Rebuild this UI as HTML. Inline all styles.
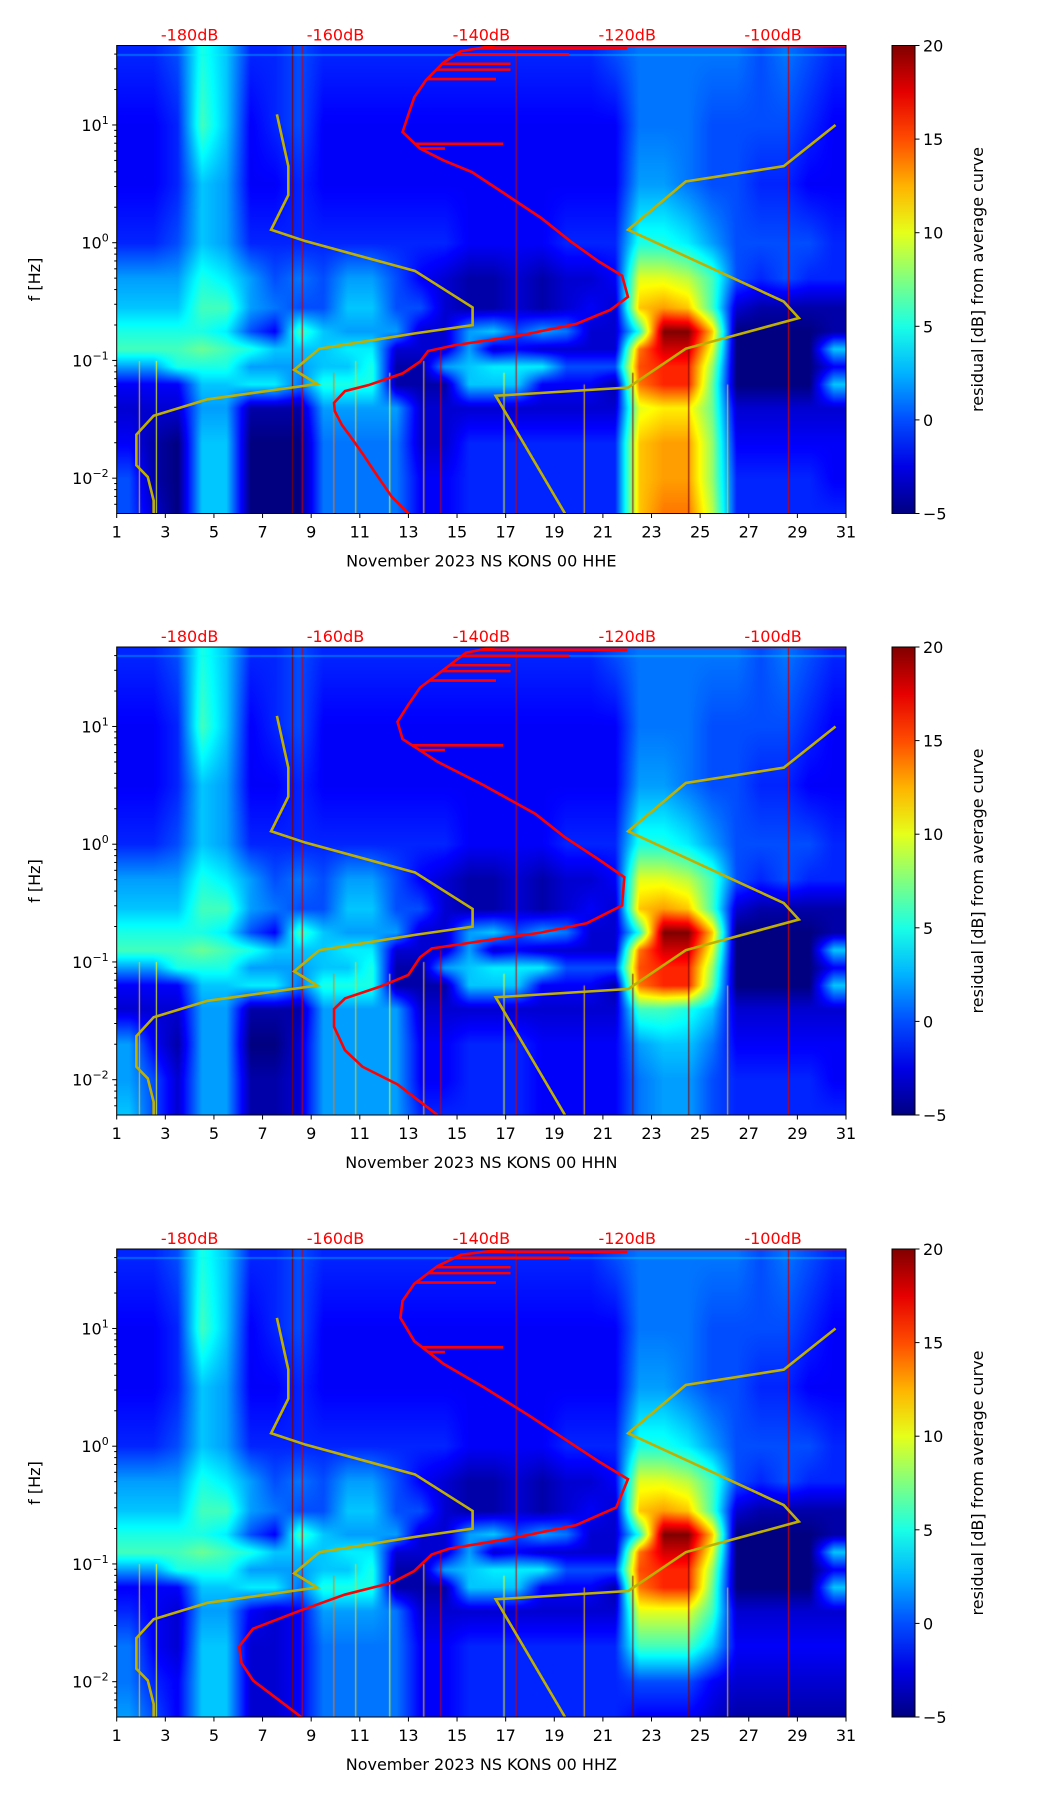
<!DOCTYPE html>
<html><head><meta charset="utf-8">
<style>
html,body{margin:0;padding:0;background:#fff;}
body{width:1052px;height:1806px;position:relative;overflow:hidden;font-family:"DejaVu Sans","Liberation Sans",sans-serif;}
canvas{position:absolute;}
svg{position:absolute;left:0;top:0;}
</style></head>
<body>
<div id="root"></div>
<script>
// ---- shared data ----
const dayTicks = [1,3,5,7,9,11,13,15,17,19,21,23,25,27,29,31];
const dbTicks = [-180,-160,-140,-120,-100];
const fTickExp = [1,0,-1,-2];
const cbTicks = [20,15,10,5,0,-5];
const channels = ["HHE","HHN","HHZ"];
// grid rows: log10 frequency centers
const rowLog = [1.6,1.0,0.5,0.0,-0.3,-0.55,-0.75,-0.9,-1.05,-1.2,-1.4,-1.7,-2.0,-2.3];
// residual dB per day column (days 1..30), upper rows shared
const rowA = [-1,-1,0,5,3,-1,-1,0,-1,-1,-1,-1,-1,-1,-1,-1,-1,-1,-1,-1,0,1,1,1,1,1,0,1,0,-1];
const rowB = [-2,-2,-1,6,3,-2,-1,0,-2,-2,-2,-2,-2,-2,-2,-2,-2,-2,-2,-2,-2,1,1,1,0,0,0,0,-1,-2];
const rowC = [-2,-2,-1,3,2,-2,-2,-1,-2,-2,-2,-2,-2,-2,-2,-2,-2,-2,-2,-2,-2,2,2,1,0,0,-1,-1,-2,-2];
const rowD = [-1,-1,0,3,2,-1,-1,-1,-1,-1,-1,-1,-1,-1,-2,-2,-2,-2,-1,-1,-1,5,5,4,2,0,0,0,0,-1];
const rowE = [2,2,2,5,4,2,0,1,0,2,2,0,-2,-3,-4,-4,-3,-4,-3,-3,-2,10,10,9,6,0,-1,0,-1,-1];
const rowF = [3,3,3,6,6,2,1,0,0,3,3,0,0,-3,-4,-4,-3,-4,-3,-2,-3,12,13,12,6,-3,-4,-4,-4,-4];
const rowG = [5,5,5,5,4,0,-2,6,3,2,2,2,-3,-3,2,3,0,2,1,-3,-3,5,20,20,12,-5,-5,-5,-5,-4];
const rowH = [6,6,6,7,6,5,3,3,3,4,4,-3,-3,-3,2,-3,-2,-3,-3,-3,-3,14,18,18,10,-5,-5,-5,-5,3];
const rowI = [2,2,5,5,5,2,2,2,3,3,5,-4,-4,2,3,4,4,4,0,0,0,15,16,16,8,-5,-5,-5,-5,-2];
const rowJ = [-2,-2,-2,3,3,4,4,1,5,5,5,-4,-4,-4,3,3,3,-2,-2,-2,-4,14,16,16,7,-5,-5,-5,-5,3];
// low rows per channel
const lowHHE = [
 [-3,-3,-3,2,2,-4,-4,-4,2,2,2,2,-3,-3,-3,-3,-3,-3,-3,-3,-3,10,11,11,7,-3,-3,-3,-3,-3],
 [-2,-4,-5,3,3,-5,-5,-5,1,1,1,1,-3,-3,-1,-1,-1,-1,-1,-1,-1,12,13,13,8,-2,-2,-2,-2,-2],
 [0,-4,-5,3,3,-5,-5,-5,1,1,1,1,-2,-2,-1,-1,-1,-1,-1,-1,-1,12,13,13,8,-1,-1,-1,-1,-2],
 [0,-3,-5,3,3,-5,-5,-5,1,1,1,1,-2,-2,-1,-1,-1,-1,-1,-1,-1,12,14,14,9,-1,-1,-1,-1,-1]];
const lowHHN = [
 [-3,-3,-3,2,2,-4,-4,-4,2,2,2,2,-3,-3,-3,-3,-3,-3,-3,-3,-3,6,6,5,3,-3,-3,-3,-3,-3],
 [2,-2,-4,2,2,-5,-5,-3,2,2,2,2,-2,-2,-1,-1,-1,-2,-2,-2,-2,2,3,3,1,-2,-2,-2,-2,-2],
 [2,0,-3,2,2,-4,-4,-3,2,2,2,2,-2,-2,-1,-1,-1,-2,-2,-2,-2,1,2,2,0,-1,-1,-1,-1,-2],
 [3,0,-3,2,2,-4,-4,-3,2,2,2,2,-1,-1,-1,-1,-1,-2,-2,-2,-2,1,2,2,0,-1,-1,-1,-1,-1]];
const lowHHZ = [
 [-1,-2,-3,2,2,-2,-3,-2,2,2,2,1,-3,-3,-3,-3,-3,-3,-3,-3,-3,10,10,10,6,-3,-3,-3,-3,-3],
 [1,-2,-3,3,3,-3,-3,-2,1,1,1,1,-2,-2,-1,-1,-1,-1,-1,-1,-1,6,6,6,3,-2,-2,-2,-2,-2],
 [1,-1,-2,3,3,-3,-3,-2,1,1,1,1,-2,-2,-1,-1,-1,-1,-1,-1,-1,0,0,0,-2,-3,-3,-3,-3,-3],
 [2,0,-2,3,3,-3,-3,-2,1,1,1,1,-2,-2,-1,-1,-1,-1,-1,-1,-1,-2,-2,-2,-3,-4,-4,-4,-4,-4]];
// vertical streaks: day, value, top extent (log10 f)
const streakDays = [1.9,2.6,8.2,8.6,9.9,10.8,12.2,13.6,14.3,16.9,17.4,20.2,22.2,24.5,26.1,28.6];
const streakVals = [12,10,20,18,14,12,10,12,18,10,18,12,20,20,12,18];
const streakTop = [-1.0,-1.0,1.675,1.675,-1.1,-1.0,-1.1,-1.0,-0.9,-1.1,1.675,-1.2,-1.1,-0.9,-1.2,1.675];
// red curve (dB on top axis, log10 f)
const redDbHHE = [-150.0,-152.3,-154.7,-156.3,-157.9,-159.1,-160.1,-160.2,-158.7,-155.5,-150.8,-148.4,-147.3,-143.6,-134.9,-127.0,-122.3,-119.9,-120.7,-123.9,-127.8,-131.8,-136.5,-141.3,-145.2,-148.4,-150.8,-150.0,-149.2,-147.6,-145.2,-142.8,-138.1,-89.9];
const redLfHHE = [-2.3,-2.157,-1.94,-1.79,-1.65,-1.55,-1.43,-1.36,-1.26,-1.21,-1.11,-1.01,-0.92,-0.87,-0.79,-0.69,-0.57,-0.46,-0.28,-0.16,0.013,0.21,0.404,0.60,0.70,0.80,0.94,1.09,1.235,1.38,1.53,1.626,1.675,1.675];
const redDbHHN = [-146.0,-151.5,-156.3,-158.7,-160.2,-160.2,-158.7,-153.9,-150.0,-148.4,-146.8,-139.7,-131.8,-125.5,-120.7,-120.4,-123.9,-128.6,-132.6,-139.7,-146.0,-150.8,-151.5,-150.0,-148.4,-145.2,-142.1,-138.1,-89.9];
const redLfHHN = [-2.3,-2.04,-1.89,-1.75,-1.55,-1.40,-1.31,-1.21,-1.11,-0.96,-0.886,-0.82,-0.75,-0.67,-0.52,-0.28,-0.13,0.062,0.258,0.502,0.70,0.893,1.04,1.186,1.33,1.48,1.626,1.675,1.675];
const redDbHHZ = [-164.7,-168.1,-171.3,-172.9,-173.2,-171.3,-165.0,-158.7,-152.3,-149.2,-146.8,-144.4,-136.5,-127.0,-121.5,-119.9,-123.9,-128.6,-133.4,-139.7,-145.2,-149.2,-151.1,-150.8,-149.2,-146.0,-142.8,-136.5,-89.9];
const redLfHHZ = [-2.3,-2.14,-1.99,-1.84,-1.70,-1.55,-1.40,-1.26,-1.16,-1.06,-0.92,-0.87,-0.79,-0.67,-0.52,-0.28,-0.13,0.062,0.258,0.502,0.70,0.893,1.09,1.235,1.38,1.53,1.626,1.675,1.675];
// red spikes: log10 f, end dB
const spikeLf = [0.84,0.80,1.39,1.47,1.52,1.6,1.65];
const spikeDb = [-137,-145,-138,-136,-136,-128,-120];
// yellow reference curves (day, log10 f)
const yelDay1 = [2.52,2.52,2.28,1.81,1.81,2.52,4.74,9.25,8.30,9.34,13.27,15.64,15.64,13.27,8.77,7.35,8.06,8.06,7.59];
const yelLf1 = [-2.3,-2.19,-1.99,-1.89,-1.63,-1.47,-1.33,-1.20,-1.08,-0.90,-0.77,-0.70,-0.55,-0.24,0.013,0.11,0.404,0.65,1.09];
const yelDay2 = [19.44,16.59,22.04,24.41,29.06,28.44,22.04,24.41,28.44,30.57];
const yelLf2 = [-2.3,-1.30,-1.23,-0.90,-0.64,-0.50,0.11,0.52,0.65,1.0];

// ---- layout ----
const L = 116.7, R = 846, PH = 468, tops = [45.5, 647, 1249];
const CBX = 892, CBW = 23;
const LFMIN = -2.3, LFMAX = 1.675;
const xDay = d => L + (d-1)/30*(R-L);
const xDb = db => xDay(1 + (db+190)/100*30);
const yLf = (lf,top) => top + (LFMAX-lf)/(LFMAX-LFMIN)*PH;
function jet(v){const t=Math.max(0,Math.min(1,(v+5)/25));const c=x=>Math.round(255*Math.max(0,Math.min(1,x)));return [c(1.5-Math.abs(4*t-3)),c(1.5-Math.abs(4*t-2)),c(1.5-Math.abs(4*t-1))];}
const NS='http://www.w3.org/2000/svg';
const root=document.getElementById('root');
const svg=document.createElementNS(NS,'svg');
svg.setAttribute('width','1052');svg.setAttribute('height','1806');


function el(tag,attrs,parent){const e=document.createElementNS(NS,tag);for(const k in attrs)e.setAttribute(k,attrs[k]);(parent||svg).appendChild(e);return e;}
function txt(x,y,s,size,fill,anchor,parent){const t=el('text',{x:x,y:y,'font-size':size,fill:fill,'text-anchor':anchor||'middle','font-family':'"DejaVu Sans","Liberation Sans",sans-serif'},parent);t.textContent=s;return t;}

const lows={HHE:lowHHE,HHN:lowHHN,HHZ:lowHHZ};
const reds={HHE:[redDbHHE,redLfHHE],HHN:[redDbHHN,redLfHHN],HHZ:[redDbHHZ,redLfHHZ]};

channels.forEach((ch,pi)=>{
  const top=tops[pi];
  const grid=[rowA,rowB,rowC,rowD,rowE,rowF,rowG,rowH,rowI,rowJ].concat(lows[ch]);
  const cv=document.createElement('canvas');
  
  
  const W=Math.round(R-L),H=PH;
  cv.width=W;cv.height=H;cv.style.left=L+'px';cv.style.top=top+'px';
  root.appendChild(cv);
  const ctx=cv.getContext('2d');const img=ctx.createImageData(W,H);
  for(let py=0;py<H;py++){
    const lf=LFMAX-(py+0.5)/H*(LFMAX-LFMIN);
    let r0=0;while(r0<rowLog.length-2&&rowLog[r0+1]>lf)r0++;
    let fy=(rowLog[r0]-lf)/(rowLog[r0]-rowLog[r0+1]);fy=Math.max(0,Math.min(1,fy));
    for(let px=0;px<W;px++){
      const d=1+(px+0.5)/W*30;let cx=d-1.5;let c0=Math.floor(cx);let fx=cx-c0;
      if(c0<0){c0=0;fx=0;} if(c0>28){c0=28;fx=1;}
      const a=grid[r0][c0]*(1-fx)+grid[r0][c0+1]*fx;
      const b=grid[r0+1][c0]*(1-fx)+grid[r0+1][c0+1]*fx;
      const v=a*(1-fy)+b*fy;const c=jet(v);const i=(py*W+px)*4;
      img.data[i]=c[0];img.data[i+1]=c[1];img.data[i+2]=c[2];img.data[i+3]=255;
    }
  }
  ctx.putImageData(img,0,0);
  streakDays.forEach((d,k)=>{const c=jet(streakVals[k]);ctx.fillStyle='rgb('+c+')';const y0=yLf(streakTop[k],0);ctx.fillRect(xDay(d)-L,y0,1,H-y0);});
  ctx.fillStyle='rgba(0,255,230,0.3)';ctx.fillRect(0,8,W,2);

  const g=el('g',{});
  
  
  const clipId='clip'+pi;
  const cp=el('clipPath',{id:clipId},g);el('rect',{x:L,y:top,width:R-L,height:PH},cp);
  [[yelDay1,yelLf1],[yelDay2,yelLf2]].forEach(([ds,ls],k)=>{
    const p=el('polyline',{points:ds.map((d,i)=>xDay(d)+','+yLf(ls[i],top)).join(' '),fill:'none',stroke:'#bfb000',"stroke-width":2.6,'clip-path':'url(#'+clipId+')'},g);
    
    
  });
  const [dbs,lfs]=reds[ch];
  const rp=el('polyline',{points:dbs.map((v,i)=>xDb(v)+','+yLf(lfs[i],top)).join(' '),fill:'none',stroke:'#ff0000',"stroke-width":2.6,'clip-path':'url(#'+clipId+')'},g);
  
  
  spikeLf.forEach((lf,k)=>{
    let j=lfs.length-2;for(let i=0;i<lfs.length-1;i++){if(lf>=lfs[i]&&lf<=lfs[i+1]&&i>lfs.length/2){j=i;break;}}
    const t=(lf-lfs[j])/((lfs[j+1]-lfs[j])||1);const startDb=dbs[j]+(dbs[j+1]-dbs[j])*Math.max(0,Math.min(1,t));
    const s=el('line',{x1:xDb(startDb),x2:xDb(spikeDb[k]),y1:yLf(lf,top),y2:yLf(lf,top),stroke:'#ff0000','stroke-width':2.6,'clip-path':'url(#'+clipId+')'},g);
    
    
  });
  const fr=el('rect',{x:L,y:top,width:R-L,height:PH,fill:'none',stroke:'#000','stroke-width':1},g);
  
  
  dayTicks.forEach(d=>{
    el('line',{x1:xDay(d),x2:xDay(d),y1:top+PH,y2:top+PH+4.5,stroke:'#000'},g);
    const t=txt(xDay(d),top+PH+24,String(d),16,'#000','middle',g);
    
    
  });
  const xl=txt((L+R)/2,top+PH+53,'November 2023 NS KONS 00 '+ch,16,'#000','middle',g);
  
  
  dbTicks.forEach(v=>{
    const t=txt(xDb(v),top-5,v+'dB',16,'#ff0000','middle',g);
    
    
  });
  fTickExp.forEach(e=>{
    const y=yLf(e,top);
    el('line',{x1:L-4.5,x2:L,y1:y,y2:y,stroke:'#000'},g);
    const t=el('text',{x:L-8,y:y+6,'font-size':16,'text-anchor':'end','font-family':'"DejaVu Sans","Liberation Sans",sans-serif'},g);
    
    
    t.textContent='10';
    const sp=el('tspan',{dy:-7,'font-size':11},t);sp.textContent=e<0?'\u2212'+(-e):String(e);
    for(let m=2;m<10;m++){const lm=e+Math.log10(m);if(lm<LFMAX&&lm>LFMIN){const yy=yLf(lm,top);el('line',{x1:L-2.5,x2:L,y1:yy,y2:yy,stroke:'#000'},g);}}
  });
  [-3].forEach(e=>{for(let m=5;m<10;m++){const lm=e+Math.log10(m);if(lm>LFMIN){const yy=yLf(lm,top);el('line',{x1:L-2.5,x2:L,y1:yy,y2:yy,stroke:'#000'},g);}}});
  const yt=txt(0,0,'f [Hz]',16,'#000','middle',g);
  yt.setAttribute('transform','translate(40,'+(top+PH/2)+') rotate(-90)');
  
  
  const gid='cbg'+pi;
  const lg=el('linearGradient',{id:gid,x1:0,y1:1,x2:0,y2:0},g);
  for(let s=0;s<=10;s++){const c=jet(-5+25*s/10);el('stop',{offset:s/10,'stop-color':'rgb('+c+')'},lg);}
  const cb=el('rect',{x:CBX,y:top,width:CBW,height:PH,fill:'url(#'+gid+')',stroke:'#000','stroke-width':1},g);
  
  
  cbTicks.forEach(v=>{
    const y=top+(20-v)/25*PH;
    el('line',{x1:CBX+CBW,x2:CBX+CBW+4.5,y1:y,y2:y,stroke:'#000'},g);
    const t=txt(CBX+CBW+8,y+6,v<0?'\u2212'+(-v):String(v),16,'#000','start',g);
    
    
  });
  const cl=txt(0,0,'residual [dB] from average curve',16,'#000','middle',g);
  cl.setAttribute('transform','translate(983,'+(top+PH/2)+') rotate(-90)');
  
  
});
root.appendChild(svg);
</script>
</body></html>
